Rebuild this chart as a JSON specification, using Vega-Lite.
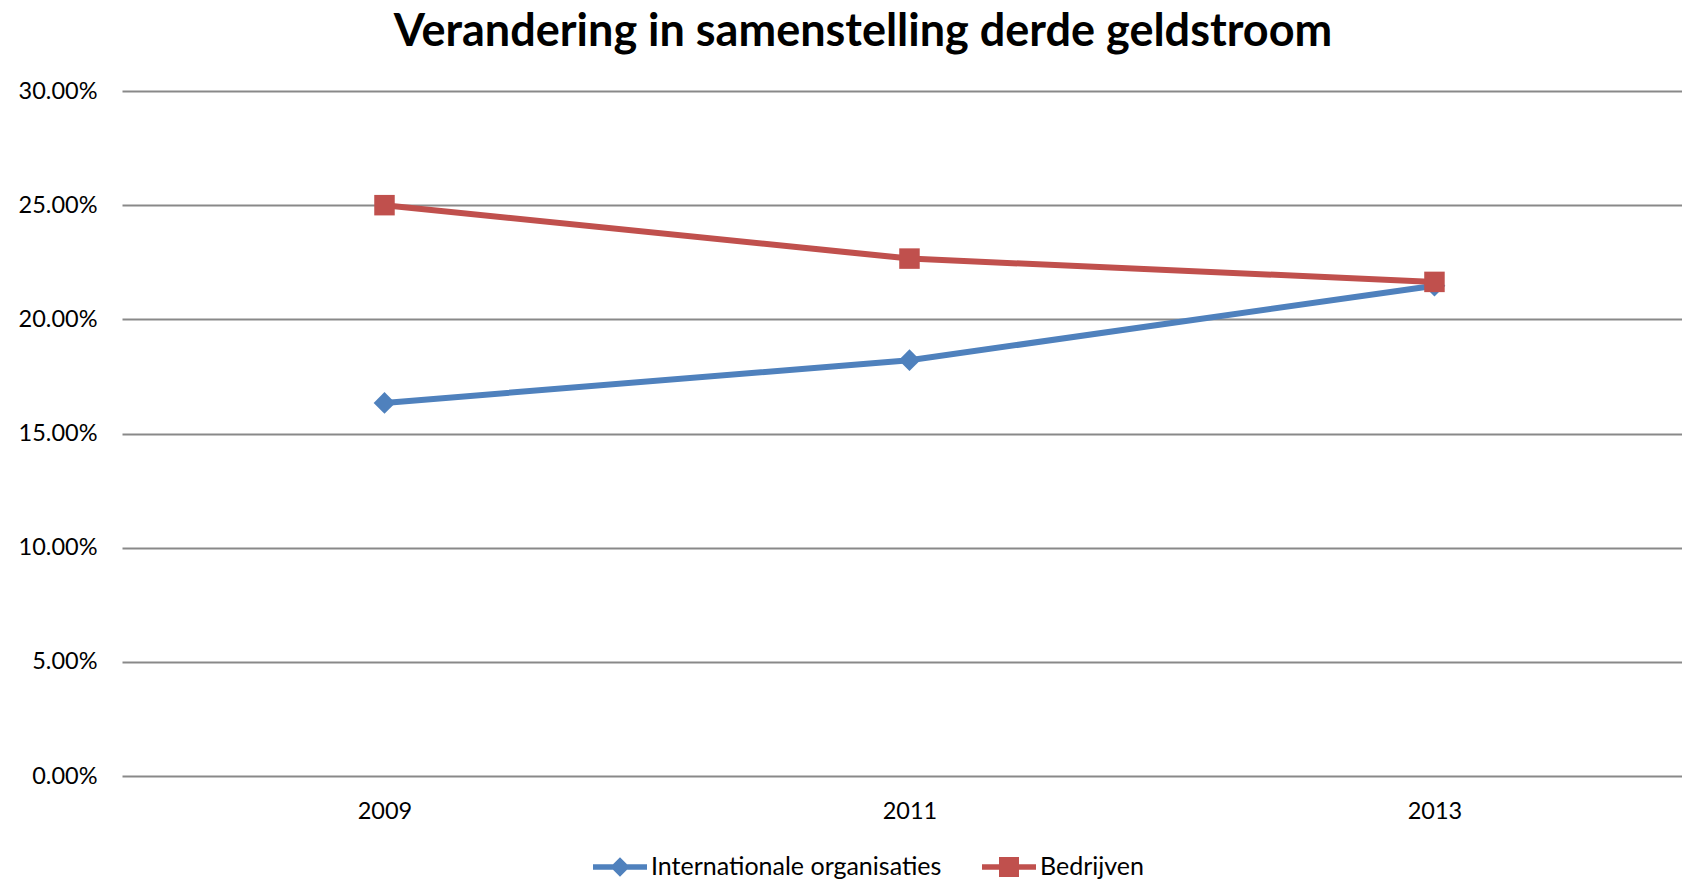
{
  "$schema": "https://vega.github.io/schema/vega-lite/v6.json",
  "width": 1560,
  "height": 685,
  "autosize": {"type": "none"},
  "padding": {"left": 122, "top": 91, "right": 0, "bottom": 107},
  "background": "white",
  "title": {
    "text": "Verandering in samenstelling derde geldstroom",
    "font": "Lato",
    "fontSize": 45,
    "fontWeight": "bold",
    "color": "#000000",
    "anchor": "middle",
    "frame": "group",
    "dx": -39,
    "dy": 59,
    "baseline": "bottom",
    "offset": 38
  },
  "config": {
    "view": {"stroke": null},
    "axis": {"labelFont": "Lato", "labelFontSize": 23.5, "labelColor": "#000000"},
    "legend": {"labelFont": "Lato", "labelFontSize": 25, "labelColor": "#000000"}
  },
  "data": {
    "values": [
      {"jaar": 2009, "reeks": "Internationale organisaties", "waarde": 0.1634},
      {"jaar": 2011, "reeks": "Internationale organisaties", "waarde": 0.1821},
      {"jaar": 2013, "reeks": "Internationale organisaties", "waarde": 0.2147},
      {"jaar": 2009, "reeks": "Bedrijven", "waarde": 0.2500},
      {"jaar": 2011, "reeks": "Bedrijven", "waarde": 0.2266},
      {"jaar": 2013, "reeks": "Bedrijven", "waarde": 0.2164}
    ]
  },
  "encoding": {
    "x": {
      "field": "jaar",
      "type": "quantitative",
      "scale": {"domain": [2008, 2013.943], "nice": false, "zero": false},
      "axis": {
        "title": null,
        "values": [2009, 2011, 2013],
        "format": "d",
        "grid": false,
        "domain": false,
        "ticks": false,
        "labelPadding": 23
      }
    },
    "y": {
      "field": "waarde",
      "type": "quantitative",
      "scale": {"domain": [0, 0.3], "nice": false},
      "axis": {
        "title": null,
        "values": [0, 0.05, 0.1, 0.15, 0.2, 0.25, 0.3],
        "format": ".2%",
        "domain": false,
        "ticks": false,
        "labelPadding": 25,
        "gridColor": "#898989",
        "gridWidth": 1.8
      }
    },
    "color": {
      "field": "reeks",
      "type": "nominal",
      "scale": {
        "domain": ["Internationale organisaties", "Bedrijven"],
        "range": ["#4F81BD", "#C0504D"]
      },
      "legend": {
        "title": null,
        "orient": "none",
        "direction": "horizontal",
        "legendX": 471,
        "legendY": 749,
        "symbolSize": 2916,
        "symbolStrokeWidth": 0,
        "labelOffset": 4,
        "labelLimit": 600,
        "columnPadding": 40,
        "encode": {
          "symbols": {
            "update": {
              "shape": {"signal": "datum.value === 'Bedrijven' ? 'M-1,-0.105H1V0.105H-1Z M-0.37,-0.37H0.37V0.37H-0.37Z' : 'M-1,-0.105H1V0.105H-1Z M0,-0.36L0.36,0L0,0.36L-0.36,0Z'"},
              "fill": {"scale": "color", "field": "value"},
              "fillOpacity": {"value": 1},
              "strokeWidth": {"value": 0}
            }
          }
        }
      }
    }
  },
  "layer": [
    {
      "mark": {"type": "line", "strokeWidth": 6},
      "encoding": {}
    },
    {
      "transform": [{"filter": "datum.reeks === 'Internationale organisaties'"}],
      "mark": {"type": "point", "filled": true, "opacity": 1, "shape": "diamond", "size": 470},
      "encoding": {}
    },
    {
      "transform": [{"filter": "datum.reeks === 'Bedrijven'"}],
      "mark": {"type": "point", "filled": true, "opacity": 1, "shape": "square", "size": 420},
      "encoding": {}
    }
  ]
}
